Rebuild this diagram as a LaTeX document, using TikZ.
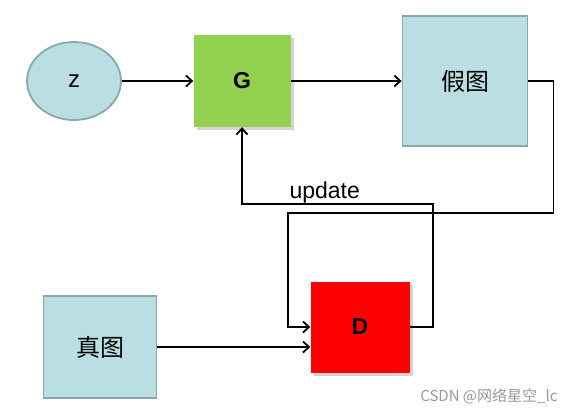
\documentclass[tikz,border=0pt]{standalone}
\usepackage{fontspec}
\setmainfont{Liberation Sans}
\newfontfamily\cjk{Noto Sans CJK SC}
\usetikzlibrary{shadows, arrows.meta, shapes.geometric}

\definecolor{lightcyan}{HTML}{B9DFE3}
\definecolor{cyanedge}{HTML}{8AA8AB}
\definecolor{ggreen}{HTML}{92D050}

\tikzset{
    imgbox/.style={draw=cyanedge, line width=1.8pt, fill=lightcyan, font=\cjk\fontsize{24}{28}\selectfont},
    netbox/.style={font=\bfseries\fontsize{23}{27}\selectfont, drop shadow={opacity=0.35, shadow xshift=3pt, shadow yshift=-3pt}},
    flow/.style={->, line width=1.8pt}
}

\begin{document}
\begin{tikzpicture}[x=1pt, y=-1pt, >={Straight Barb[length=6pt,width=11pt,line width=1.8pt]}]
    \useasboundingbox (0,0) rectangle (575,413);
    \node[ellipse, draw=cyanedge, line width=1.8pt, fill=lightcyan, minimum width=94pt, minimum height=78pt, font=\fontsize{24}{28}\selectfont] (z) at (74,81) {z};
    \node[netbox, fill=ggreen, minimum width=97pt, minimum height=92pt] (G) at (242,81) {G};
    \node[imgbox, minimum width=125pt, minimum height=130pt] (fake) at (465,81) {假图};
    \node[imgbox, minimum width=113pt, minimum height=102pt] (real) at (100,347) {真图};
    \node[netbox, fill=red, minimum width=99pt, minimum height=91pt] (D) at (360,327) {D};
    \coordinate (upd) at (242,204);
    \coordinate (back) at (288,213);

    \draw[flow] (z) -- (G);
    \draw[flow] (G) -- (fake);
    \draw[flow] (fake.east) -- ++(25,0) |- (back) |- (D.west);
    \draw[flow] (D.east) -- ++(23,0) |- (upd) -- (G.south);
    \draw[flow] (real.east) -- (real.east -| D.west);
    \node[anchor=base west, font=\fontsize{23}{27}\selectfont] (lbl) at (286,198) {update};
    \node[anchor=base east, text=black!40, font=\cjk\fontsize{15}{18}\selectfont] (mark) at (561,401) {CSDN @网络星空\_lc};
\end{tikzpicture}
\end{document}
